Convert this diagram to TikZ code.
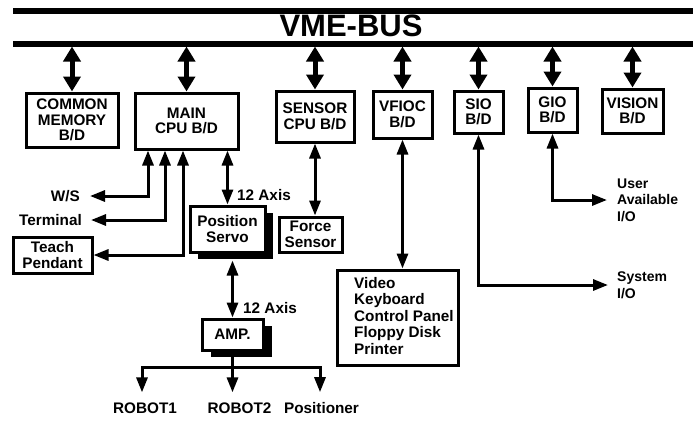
\documentclass[tikz,border=0pt]{standalone}
\usepackage{fontspec}
\setmainfont{Liberation Sans}
\usetikzlibrary{arrows.meta,calc,shadows}
\tikzset{
 box/.style={draw, line width=3pt, inner sep=0pt, align=center, font=\bfseries\fontsize{15.3}{15.5}\selectfont},
 lbl/.style={inner sep=0pt, font=\bfseries\fontsize{15.3}{16.5}\selectfont},
 smlbl/.style={inner sep=0pt, align=left, font=\bfseries\fontsize{14}{16.5}\selectfont},
 busline/.style={line width=5.5pt},
 busarrow/.style={line width=5pt, {Triangle[length=15pt,width=17pt]}-{Triangle[length=15pt,width=17pt]}},
 link/.style={line width=3pt},
 blackshadow/.style={drop shadow={shadow xshift=#1, shadow yshift=-7pt, fill=black, opacity=1}},
}
\begin{document}
\begin{tikzpicture}[x=1pt,y=-1pt, >={Triangle[length=15pt,width=11pt]}]
\useasboundingbox (0,0) rectangle (697,421);
% bus
\coordinate (busTL) at (13,11); \coordinate (busTR) at (693,11);
\coordinate (busBL) at (13,44); \coordinate (busBR) at (693,44);
\draw[busline] (busTL) -- (busTR);
\draw[busline] (busBL) -- (busBR);
\node[font=\bfseries\fontsize{31}{32}\selectfont, inner sep=0pt] (vme) at (351,26) {VME-BUS};
\coordinate (busB) at (0,46.5);
% boards
\node[box, minimum width=92, minimum height=54] (cm) at (72,120) {COMMON\\MEMORY\\B/D};
\node[box, minimum width=103, minimum height=56] (main) at (186.5,121) {MAIN\\CPU B/D};
\node[box, minimum width=78, minimum height=51] (sensor) at (315,116.5) {SENSOR\\CPU B/D};
\node[box, minimum width=59, minimum height=47] (vfioc) at (402.5,114.5) {VFIOC\\B/D};
\node[box, minimum width=49, minimum height=42] (sio) at (478.5,112) {SIO\\B/D};
\node[box, minimum width=49, minimum height=44] (gio) at (552.5,110) {GIO\\B/D};
\node[box, minimum width=61, minimum height=44] (vision) at (632.5,111) {VISION\\B/D};
\foreach \b in {cm,main,sensor,vfioc,sio,gio,vision}
  \draw[busarrow] (\b.north |- busB) -- (\b.north);
% main cpu peripherals
\node[box, minimum width=79, minimum height=36] (teach) at (52.5,255) {Teach\\Pendant};
\node[lbl, anchor=east] (ws) at (80,196) {W/S};
\node[lbl, anchor=east] (term) at (82,220) {Terminal};
\draw[link,<->] ([xshift=10pt]ws.east) -| ([xshift=-38.5pt]main.south);
\draw[link,<->] ([xshift=9pt]term.east) -| ([xshift=-21.5pt]main.south);
\draw[link,<->] (teach.east) -| ([xshift=-3.5pt]main.south);
% servo
\node[box, fill=white, minimum width=75, minimum height=46, blackshadow=8pt] (servo) at (227.5,229) {Position\\Servo};
\node[box, minimum width=63, minimum height=35] (force) at (310.5,234.5) {Force\\Sensor};
\draw[link,<->] (servo.north |- main.south) -- (servo.north);
\node[lbl, anchor=west] (ax1) at (237,195) {12 Axis};
\draw[link,<->] (sensor.south) -- (sensor.south |- force.north);
% amp
\node[box, fill=white, minimum width=61, minimum height=31, blackshadow=9pt] (amp) at (232.5,334.5) {AMP.};
\coordinate (servoB) at ([yshift=-7pt]servo.south);
\draw[link,<->] (servoB -| amp.north) -- (amp.north);
\node[lbl, anchor=west] (ax2) at (243,308) {12 Axis};
\coordinate (split) at (232.5,367);
\draw[link] (amp.south) -- (split);
\node[lbl] (r1) at (145,408) {ROBOT1};
\node[lbl] (r2) at (239.5,408) {ROBOT2};
\node[lbl] (r3) at (321.5,408) {Positioner};
\coordinate (r1top) at ([shift={(-3pt,10pt)}]r1.north);
\coordinate (r2top) at ([yshift=10pt]r2.north);
\coordinate (r3top) at ([shift={(-1.5pt,10pt)}]r3.north);
\draw[link,->] (split) -| (r1top);
\draw[link,->] (split) -- (split |- r2top);
\draw[link,->] (split) -| (r3top);
% vfioc peripherals
\node[box, minimum width=121, minimum height=95] (video) at (397.5,317.5) {};
\node[lbl, anchor=west, align=left] (vtext) at (354,316) {Video\\Keyboard\\Control Panel\\Floppy Disk\\Printer};
\draw[link,<->] (vfioc.south) -- (vfioc.south |- video.north);
% sio / gio
\node[smlbl, anchor=west] (sysio) at (617,285) {System\\I/O};
\draw[link,<->] ([xshift=-9pt]sysio.west) -| (sio.south);
\node[smlbl, anchor=west] (user) at (617,200) {User\\Available\\I/O};
\draw[link,<->] ([xshift=-10pt]user.west) -| (gio.south);
\end{tikzpicture}
\end{document}
